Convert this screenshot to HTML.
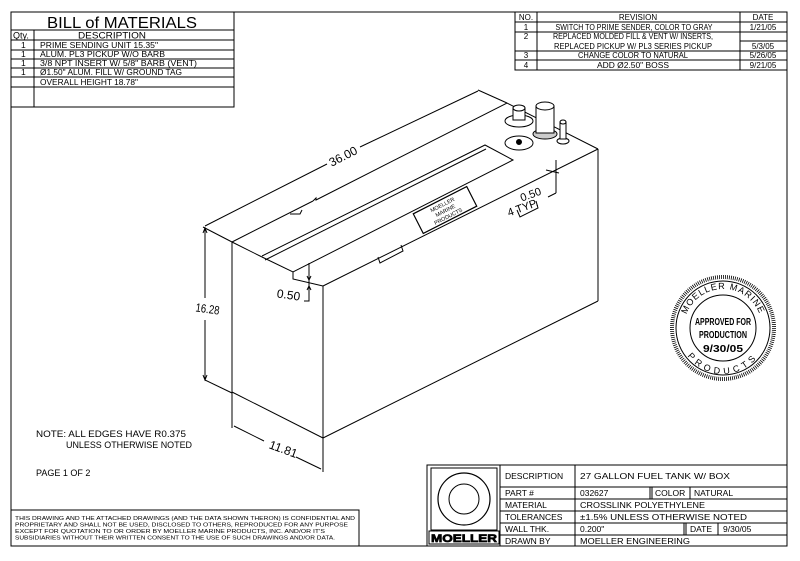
<!DOCTYPE html>
<html><head><meta charset="utf-8"><style>
html,body{margin:0;padding:0;background:#fff;}
svg{display:block;}
text{font-family:"Liberation Sans",sans-serif;fill:#000;}
</style></head><body>
<svg width="800" height="561" viewBox="0 0 800 561" xmlns="http://www.w3.org/2000/svg" xmlns:xlink="http://www.w3.org/1999/xlink">
<g fill="none" stroke="#000" stroke-width="1">
<!-- border -->
<line x1="11" y1="12" x2="11" y2="546"/>
<line x1="11" y1="546" x2="787" y2="546"/>
<line x1="787" y1="70" x2="787" y2="546"/>
<line x1="234" y1="12" x2="515" y2="12"/>
<!-- BOM -->
<rect x="11" y="12" width="223" height="95"/>
<line x1="11" y1="30" x2="234" y2="30"/>
<line x1="11" y1="40" x2="234" y2="40"/>
<line x1="11" y1="50" x2="234" y2="50"/>
<line x1="11" y1="59" x2="234" y2="59"/>
<line x1="11" y1="68" x2="234" y2="68"/>
<line x1="11" y1="77" x2="234" y2="77"/>
<line x1="11" y1="87" x2="234" y2="87"/>
<line x1="34" y1="30" x2="34" y2="107"/>
<!-- revision -->
<rect x="515" y="12" width="272" height="58"/>
<line x1="515" y1="22" x2="787" y2="22"/>
<line x1="515" y1="32" x2="787" y2="32"/>
<line x1="740" y1="41" x2="787" y2="41"/>
<line x1="515" y1="51" x2="787" y2="51"/>
<line x1="515" y1="60" x2="787" y2="60"/>
<line x1="537" y1="12" x2="537" y2="70"/>
<line x1="740" y1="12" x2="740" y2="70"/>
<!-- disclaimer -->
<rect x="11" y="510" width="348" height="36"/>
<!-- title block -->
<rect x="427" y="465" width="360" height="81"/>
<line x1="500" y1="465" x2="500" y2="546"/>
<line x1="575" y1="465" x2="575" y2="546"/>
<line x1="500" y1="487" x2="787" y2="487"/>
<line x1="500" y1="499" x2="787" y2="499"/>
<line x1="500" y1="511" x2="787" y2="511"/>
<line x1="500" y1="523" x2="787" y2="523"/>
<line x1="500" y1="535" x2="787" y2="535"/>
<line x1="650" y1="487" x2="650" y2="499"/><line x1="652" y1="487" x2="652" y2="499"/>
<line x1="690" y1="487" x2="690" y2="499"/>
<line x1="684" y1="523" x2="684" y2="535"/><line x1="686" y1="523" x2="686" y2="535"/>
<line x1="718" y1="523" x2="718" y2="535"/>
<!-- logo -->
<rect x="431" y="468" width="66" height="62"/>
<circle cx="464" cy="499" r="26" stroke-width="1.2"/>
<circle cx="464" cy="499" r="15"/>
<rect x="429" y="531" width="70" height="13"/>

<!-- tank -->
<line x1="232" y1="242" x2="313" y2="201"/>
<polyline points="313,201 316,198 316,200 507,103 598,149"/>
<line x1="323" y1="286" x2="598" y2="149"/>
<line x1="232" y1="242" x2="232" y2="392"/>
<line x1="323" y1="286" x2="323" y2="438"/>
<line x1="598" y1="149" x2="598" y2="301"/>
<line x1="232" y1="392" x2="323" y2="438"/>
<line x1="323" y1="438" x2="598" y2="301"/>
<line x1="232" y1="242" x2="262" y2="257"/>
<!-- slot -->
<polyline points="262,256 485,145 513,160 293,272 262,257"/>
<line x1="265" y1="260" x2="486" y2="149"/>
<polyline points="293,272 293,279 323,286"/>
<!-- parting bumps -->
<polyline points="290,214 300,214 302,210"/>
<polyline points="378,257 380,263 403,251 401,245"/>
<polyline points="517,210 520,217 538,208 536,201"/>
<!-- dimension 36 -->
<line x1="203" y1="227" x2="232" y2="242"/>
<line x1="478" y1="90" x2="507" y2="103"/>
<line x1="205" y1="226" x2="327" y2="164"/>
<line x1="360" y1="147" x2="478" y2="91"/>
<!-- 16.28 -->
<line x1="205" y1="228" x2="205" y2="298"/>
<line x1="205" y1="320" x2="205" y2="380"/>
<line x1="205" y1="380" x2="232" y2="393"/>
<path d="M203,233 L205,228 L207,233 M203,375 L205,380 L207,375"/>
<!-- 11.81 -->
<line x1="232" y1="392" x2="232" y2="428"/>
<line x1="323" y1="438" x2="323" y2="472"/>
<line x1="234" y1="426" x2="264" y2="441"/>
<line x1="296" y1="457" x2="321" y2="469"/>
<!-- 0.50 left -->
<line x1="309" y1="263" x2="309" y2="297"/>
<polyline points="309,297 309,301 304,301"/>
<path d="M307,276 L309,280 L311,276 M307,290 L309,286 L311,290"/>
<!-- 0.50 right -->
<line x1="556" y1="160" x2="556" y2="193"/>
<line x1="556" y1="193" x2="548" y2="197"/>
<line x1="546" y1="170" x2="559" y2="173"/>
<!-- nameplate -->
<g transform="translate(445,210) rotate(-27)">
<rect x="-30" y="-11" width="60" height="22" stroke-width="1.2"/>
</g>
<!-- fittings -->
<ellipse cx="519" cy="121" rx="14" ry="6"/>
<rect x="513" y="108" width="12" height="12" fill="#fff"/>
<ellipse cx="519" cy="108" rx="6" ry="3" fill="#fff"/>
<ellipse cx="545" cy="134" rx="12" ry="5" fill="#ccc"/>
<rect x="536" y="106" width="18" height="27" fill="#fff"/>
<ellipse cx="545" cy="106" rx="9" ry="4" fill="#fff"/>
<ellipse cx="519" cy="143" rx="14" ry="7"/>
<circle cx="519" cy="142" r="2.5" fill="#000"/>
<ellipse cx="563" cy="141" rx="6" ry="3"/>
<rect x="560" y="122" width="6" height="17" fill="#fff"/>
<ellipse cx="563" cy="122" rx="3" ry="2" fill="#fff"/>
<!-- stamp -->
<circle cx="723" cy="328" r="51" stroke-width="4" stroke-dasharray="0.8 1.2"/>
<circle cx="723" cy="328" r="47"/>
<circle cx="723" cy="328" r="33"/>
</g>

<!-- texts -->
<text x="122" y="28" font-size="16" text-anchor="middle" textLength="150" lengthAdjust="spacingAndGlyphs">BILL  of  MATERIALS</text>
<g font-size="8.5">
<text x="13" y="38.5" font-size="9">Qty.</text>
<text x="78" y="38.5" font-size="9" textLength="68" lengthAdjust="spacingAndGlyphs">DESCRIPTION</text>
<text x="21" y="48">1</text><text x="40" y="48" textLength="118" lengthAdjust="spacingAndGlyphs">PRIME SENDING UNIT 15.35"</text>
<text x="21" y="57">1</text><text x="40" y="57" textLength="125" lengthAdjust="spacingAndGlyphs">ALUM. PL3 PICKUP W/O BARB</text>
<text x="21" y="66">1</text><text x="40" y="66" textLength="157" lengthAdjust="spacingAndGlyphs">3/8 NPT INSERT W/ 5/8" BARB (VENT)</text>
<text x="21" y="75">1</text><text x="40" y="75" textLength="142" lengthAdjust="spacingAndGlyphs">Ø1.50" ALUM. FILL W/ GROUND TAG</text>
<text x="40" y="85" textLength="98" lengthAdjust="spacingAndGlyphs">OVERALL HEIGHT 18.78"</text>
</g>
<g font-size="8" text-anchor="middle">
<text x="526" y="20">NO.</text><text x="638" y="20">REVISION</text><text x="763" y="20">DATE</text>
<text x="526" y="30">1</text><text x="634" y="30" textLength="157" lengthAdjust="spacingAndGlyphs">SWITCH TO PRIME SENDER, COLOR TO GRAY</text><text x="763" y="30">1/21/05</text>
<text x="526" y="39">2</text><text x="633" y="39" textLength="160" lengthAdjust="spacingAndGlyphs">REPLACED MOLDED FILL &amp; VENT W/ INSERTS,</text>
<text x="633" y="49" textLength="158" lengthAdjust="spacingAndGlyphs">REPLACED PICKUP W/ PL3 SERIES PICKUP</text><text x="763" y="49">5/3/05</text>
<text x="526" y="58">3</text><text x="633" y="58" textLength="110" lengthAdjust="spacingAndGlyphs">CHANGE COLOR TO NATURAL</text><text x="763" y="58">5/26/05</text>
<text x="526" y="68">4</text><text x="633" y="68" textLength="72" lengthAdjust="spacingAndGlyphs">ADD Ø2.50" BOSS</text><text x="763" y="68">9/21/05</text>
</g>
<g font-size="9">
<text x="36" y="437" textLength="150" lengthAdjust="spacingAndGlyphs">NOTE: ALL EDGES HAVE R0.375</text>
<text x="66" y="448" textLength="126" lengthAdjust="spacingAndGlyphs">UNLESS OTHERWISE NOTED</text>
<text x="36" y="476">PAGE 1 OF 2</text>
</g>
<g font-size="5.6">
<text x="15" y="520" textLength="340" lengthAdjust="spacingAndGlyphs">THIS DRAWING AND THE ATTACHED DRAWINGS (AND THE DATA SHOWN THERON) IS CONFIDENTIAL AND</text>
<text x="15" y="526.5" textLength="333" lengthAdjust="spacingAndGlyphs">PROPRIETARY AND SHALL NOT BE USED, DISCLOSED TO OTHERS, REPRODUCED FOR ANY PURPOSE</text>
<text x="15" y="533" textLength="310" lengthAdjust="spacingAndGlyphs">EXCEPT FOR QUOTATION TO OR ORDER BY MOELLER MARINE PRODUCTS, INC. AND/OR IT'S</text>
<text x="15" y="539.5" textLength="320" lengthAdjust="spacingAndGlyphs">SUBSIDIARIES WITHOUT THEIR WRITTEN CONSENT TO THE USE OF SUCH DRAWINGS AND/OR DATA.</text>
</g>
<g font-size="8.5">
<text x="505" y="479">DESCRIPTION</text><text x="580" y="479" textLength="150" lengthAdjust="spacingAndGlyphs">27 GALLON FUEL TANK W/ BOX</text>
<text x="505" y="496">PART #</text><text x="580" y="496">032627</text><text x="655" y="496">COLOR</text><text x="694" y="496">NATURAL</text>
<text x="505" y="508">MATERIAL</text><text x="580" y="508" textLength="125" lengthAdjust="spacingAndGlyphs">CROSSLINK POLYETHYLENE</text>
<text x="505" y="520">TOLERANCES</text><text x="580" y="520" textLength="167" lengthAdjust="spacingAndGlyphs">±1.5% UNLESS OTHERWISE NOTED</text>
<text x="505" y="532">WALL THK.</text><text x="580" y="532">0.200"</text><text x="690" y="532">DATE</text><text x="723" y="532">9/30/05</text>
<text x="505" y="544">DRAWN BY</text><text x="580" y="544" textLength="110" lengthAdjust="spacingAndGlyphs">MOELLER ENGINEERING</text>
</g>
<text x="464" y="542" font-size="11" text-anchor="middle" font-weight="bold" textLength="66" lengthAdjust="spacingAndGlyphs" fill="#fff" stroke="#000" stroke-width="0.7">MOELLER</text>
<!-- dims text -->
<text x="345" y="160" font-size="12" text-anchor="middle" transform="rotate(-27 345 160)">36.00</text>
<text x="207" y="313" font-size="12" text-anchor="middle" transform="rotate(8 207 313)" textLength="24" lengthAdjust="spacingAndGlyphs">16.28</text>
<text x="282" y="453" font-size="12" text-anchor="middle" transform="rotate(20 282 453)">11.81</text>
<text x="288" y="299" font-size="12" text-anchor="middle" transform="rotate(8 288 299)">0.50</text>
<text x="532" y="198" font-size="11" text-anchor="middle" transform="rotate(-20 532 198)">0.50</text>
<text x="524" y="211" font-size="11" text-anchor="middle" transform="rotate(-20 524 211)">4 TYP.</text>
<g font-size="5.5" text-anchor="middle" transform="translate(445,210) rotate(-27)">
<text x="0" y="-4">MOELLER</text><text x="0" y="2.5">MARINE</text><text x="0" y="9">PRODUCTS</text>
</g>
<g font-size="10" font-weight="bold" text-anchor="middle">
<text x="723" y="325" textLength="56" lengthAdjust="spacingAndGlyphs">APPROVED FOR</text>
<text x="723" y="338" textLength="48" lengthAdjust="spacingAndGlyphs">PRODUCTION</text>
<text x="723" y="352" textLength="40" lengthAdjust="spacingAndGlyphs">9/30/05</text>
</g>
<defs><path id="arcT" d="M684,328 A39,39 0 0 1 762,328"/><path id="arcB" d="M679,330 A44,44 0 0 0 767,330"/></defs>
<text font-size="9"><textPath href="#arcT" xlink:href="#arcT" startOffset="50%" text-anchor="middle" letter-spacing="1">MOELLER  MARINE</textPath></text>
<text font-size="9"><textPath href="#arcB" xlink:href="#arcB" startOffset="50%" text-anchor="middle" letter-spacing="4">PRODUCTS</textPath></text>
</svg>
</body></html>
